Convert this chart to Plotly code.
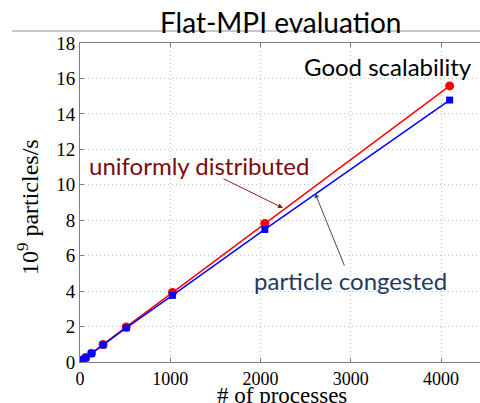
import plotly.graph_objects as go

# Data
processes = [1, 2, 4, 8, 16, 32, 64, 128, 256, 512, 1024, 2048, 4096]
uniform = [0.004, 0.008, 0.016, 0.031, 0.062, 0.124, 0.25, 0.5, 0.99, 1.98, 3.92, 7.82, 15.58]
congested = [0.004, 0.008, 0.015, 0.030, 0.060, 0.12, 0.24, 0.48, 0.96, 1.92, 3.76, 7.48, 14.78]
x_ticks = [0, 1000, 2000, 3000, 4000]
y_ticks = [0, 2, 4, 6, 8, 10, 12, 14, 16, 18]

W, H = 480, 403
L, R, T, B = 80, 0, 43, 41
PW, PH = W - L - R, H - T - B

def px(x):
    return (x - L) / PW

def py(y):
    return (H - B - y) / PH

fig = go.Figure()
fig.add_trace(go.Scatter(x=processes, y=uniform, mode="lines+markers",
                         line=dict(color="#ff0000", width=1.5),
                         marker=dict(symbol="circle", size=9, color="#ff0000"),
                         showlegend=False))
fig.add_trace(go.Scatter(x=processes, y=congested, mode="lines+markers",
                         line=dict(color="#0000ff", width=1.5),
                         marker=dict(symbol="square", size=7, color="#0000ff"),
                         showlegend=False))

serif = "Liberation Serif"
sans = "Lato"
axcol = "#808080"

fig.update_layout(
    width=W, height=H,
    margin=dict(l=L, r=R, t=T, b=B),
    paper_bgcolor="white", plot_bgcolor="white",
    xaxis=dict(range=[0, PW / 0.09025], tickvals=x_ticks, ticktext=[str(v) for v in x_ticks],
               showline=True, linecolor=axcol, linewidth=1, mirror="ticks",
               ticks="inside", ticklen=4, tickcolor=axcol,
               showgrid=True, gridcolor="#c0c0c0", griddash="1px,3px", gridwidth=1,
               zeroline=False, automargin=False,
               tickfont=dict(family=serif, size=18, color="black")),
    yaxis=dict(range=[0, 18], tickvals=y_ticks, ticktext=[str(v) for v in y_ticks],
               showline=True, linecolor=axcol, linewidth=1, mirror=False,
               ticks="inside", ticklen=4, tickcolor=axcol,
               showgrid=True, gridcolor="#c0c0c0", griddash="1px,3px", gridwidth=1,
               zeroline=False, automargin=False,
               tickfont=dict(family=serif, size=19, color="black")),
)

# Slide separator line
fig.add_shape(type="line", xref="paper", yref="paper", layer="below",
              x0=px(12), x1=px(480), y0=py(31), y1=py(31),
              line=dict(color="#b4b4b4", width=1.5))

annos = [
    dict(text="Flat-MPI evaluation", x=px(280), y=py(22), font=dict(family=sans, size=28, color="black")),
    dict(text="Good scalability", x=px(388), y=py(66), font=dict(family=sans, size=24, color="black")),
    dict(text="uniformly distributed", x=px(199), y=py(165), font=dict(family=sans, size=24, color="#7b0c0c")),
    dict(text="particle congested", x=px(350), y=py(280), font=dict(family=sans, size=24, color="#243b5e")),
    dict(text="# of processes", x=px(282), y=py(395), font=dict(family=serif, size=23, color="black")),
    dict(text="10<sup>9</sup> particles/s", x=px(28), y=py(207), textangle=-90,
         font=dict(family=serif, size=24, color="black")),
]
for a in annos:
    fig.add_annotation(xref="paper", yref="paper", showarrow=False,
                       xanchor="center", yanchor="middle", **a)

# Arrows
fig.add_annotation(xref="paper", yref="paper", x=px(283), y=py(208),
                   ax=-61, ay=-30, axref="pixel", ayref="pixel", text="",
                   showarrow=True, arrowhead=2, arrowsize=1, arrowwidth=1, arrowcolor="#8b2020")
fig.add_annotation(xref="paper", yref="paper", x=px(315), y=py(193),
                   ax=30, ay=74, axref="pixel", ayref="pixel", text="",
                   showarrow=True, arrowhead=2, arrowsize=1, arrowwidth=1, arrowcolor="#3a4f6a")

fig.write_html("out.html", config={"displayModeBar": False},
               post_script="document.body.style.margin='0';document.body.style.overflow='hidden';")
